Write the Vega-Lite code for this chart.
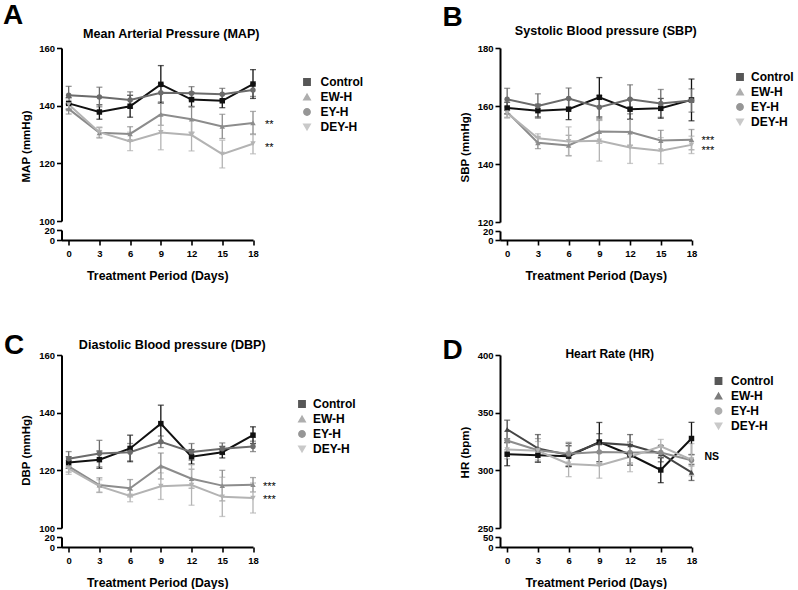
{
  "$schema": "https://vega.github.io/schema/vega-lite/v6.json",
  "padding": {"left": 2.5, "top": 1, "right": 0, "bottom": 0},
  "background": "white",
  "config": {
    "font": "Liberation Sans",
    "view": {"stroke": null},
    "axis": {"grid": false, "domainColor": "#000", "domainWidth": 2, "tickColor": "#000", "tickWidth": 1.6, "tickSize": 5, "labelFont": "Liberation Sans", "labelFontSize": 9.5, "labelFontWeight": "bold", "labelColor": "#000", "labelPadding": 2, "titleFont": "Liberation Sans", "titleFontSize": 12, "titleFontWeight": "bold", "titleColor": "#000"},
    "axisX": {"labelPadding": 3, "titlePadding": 12, "labelFlush": false, "labelOverlap": false, "titleFontSize": 12.3},
    "axisY": {"titlePadding": 7, "labelOverlap": false, "titleFontSize": 11.5},
    "title": {"font": "Liberation Sans", "fontSize": 12.6, "fontWeight": "bold", "color": "#000", "anchor": "middle"},
    "legend": {"title": null, "labelFont": "Liberation Sans", "labelFontSize": 12, "labelFontWeight": "bold", "labelColor": "#000", "symbolSize": 40, "rowPadding": 2, "labelOffset": 7, "padding": 0, "orient": "none"}
  },
  "datasets": {
    "A": [
      {"g":"Control","d":0,"m":140.8,"lo":138.8,"hi":142.8},
      {"g":"Control","d":3,"m":137.8,"lo":135.3,"hi":140.3},
      {"g":"Control","d":6,"m":139.8,"lo":136.0,"hi":143.6},
      {"g":"Control","d":9,"m":147.4,"lo":140.9,"hi":153.9},
      {"g":"Control","d":12,"m":142.1,"lo":139.6,"hi":144.6},
      {"g":"Control","d":15,"m":141.7,"lo":139.3,"hi":144.1},
      {"g":"Control","d":18,"m":147.5,"lo":142.5,"hi":152.5},
      {"g":"EW-H","d":0,"m":138.9,"lo":137.1,"hi":140.7},
      {"g":"EW-H","d":3,"m":130.6,"lo":128.8,"hi":132.4},
      {"g":"EW-H","d":6,"m":130.2,"lo":127.7,"hi":132.7},
      {"g":"EW-H","d":9,"m":137.0,"lo":133.2,"hi":140.8},
      {"g":"EW-H","d":12,"m":135.3,"lo":130.8,"hi":139.8},
      {"g":"EW-H","d":15,"m":132.8,"lo":128.6,"hi":137.0},
      {"g":"EW-H","d":18,"m":134.0,"lo":130.0,"hi":138.0},
      {"g":"EY-H","d":0,"m":143.6,"lo":140.5,"hi":146.7},
      {"g":"EY-H","d":3,"m":143.0,"lo":139.6,"hi":146.4},
      {"g":"EY-H","d":6,"m":142.0,"lo":139.2,"hi":144.8},
      {"g":"EY-H","d":9,"m":144.5,"lo":141.3,"hi":147.7},
      {"g":"EY-H","d":12,"m":144.3,"lo":142.0,"hi":146.6},
      {"g":"EY-H","d":15,"m":144.0,"lo":142.0,"hi":146.0},
      {"g":"EY-H","d":18,"m":145.4,"lo":143.2,"hi":147.6},
      {"g":"DEY-H","d":0,"m":140.4,"lo":138.4,"hi":142.4},
      {"g":"DEY-H","d":3,"m":130.8,"lo":129.0,"hi":132.6},
      {"g":"DEY-H","d":6,"m":127.6,"lo":124.4,"hi":130.8},
      {"g":"DEY-H","d":9,"m":130.7,"lo":124.7,"hi":136.7},
      {"g":"DEY-H","d":12,"m":129.8,"lo":124.3,"hi":135.3},
      {"g":"DEY-H","d":15,"m":123.2,"lo":118.4,"hi":128.0},
      {"g":"DEY-H","d":18,"m":126.8,"lo":123.3,"hi":130.3}
    ],
    "B": [
      {"g":"Control","d":0,"m":159.3,"lo":157.3,"hi":161.3},
      {"g":"Control","d":3,"m":158.4,"lo":156.2,"hi":160.6},
      {"g":"Control","d":6,"m":158.9,"lo":155.3,"hi":162.5},
      {"g":"Control","d":9,"m":163.0,"lo":156.2,"hi":169.8},
      {"g":"Control","d":12,"m":158.9,"lo":155.4,"hi":162.4},
      {"g":"Control","d":15,"m":159.2,"lo":155.8,"hi":162.6},
      {"g":"Control","d":18,"m":162.1,"lo":154.9,"hi":169.3},
      {"g":"EW-H","d":0,"m":157.9,"lo":156.1,"hi":159.7},
      {"g":"EW-H","d":3,"m":147.3,"lo":145.3,"hi":149.3},
      {"g":"EW-H","d":6,"m":146.4,"lo":142.9,"hi":149.9},
      {"g":"EW-H","d":9,"m":151.2,"lo":147.2,"hi":155.2},
      {"g":"EW-H","d":12,"m":151.0,"lo":146.5,"hi":155.5},
      {"g":"EW-H","d":15,"m":148.1,"lo":144.6,"hi":151.6},
      {"g":"EW-H","d":18,"m":148.4,"lo":144.9,"hi":151.9},
      {"g":"EY-H","d":0,"m":162.3,"lo":158.5,"hi":166.1},
      {"g":"EY-H","d":3,"m":160.0,"lo":155.8,"hi":164.2},
      {"g":"EY-H","d":6,"m":162.6,"lo":159.0,"hi":166.2},
      {"g":"EY-H","d":9,"m":159.6,"lo":155.6,"hi":163.6},
      {"g":"EY-H","d":12,"m":162.3,"lo":157.3,"hi":167.3},
      {"g":"EY-H","d":15,"m":160.9,"lo":156.1,"hi":165.7},
      {"g":"EY-H","d":18,"m":161.9,"lo":157.9,"hi":165.9},
      {"g":"DEY-H","d":0,"m":157.6,"lo":155.8,"hi":159.4},
      {"g":"DEY-H","d":3,"m":148.9,"lo":147.4,"hi":150.4},
      {"g":"DEY-H","d":6,"m":147.8,"lo":142.8,"hi":152.8},
      {"g":"DEY-H","d":9,"m":148.0,"lo":141.0,"hi":155.0},
      {"g":"DEY-H","d":12,"m":145.7,"lo":140.2,"hi":151.2},
      {"g":"DEY-H","d":15,"m":144.6,"lo":140.1,"hi":149.1},
      {"g":"DEY-H","d":18,"m":146.6,"lo":143.6,"hi":149.6}
    ],
    "C": [
      {"g":"Control","d":0,"m":122.7,"lo":120.7,"hi":124.7},
      {"g":"Control","d":3,"m":123.7,"lo":120.7,"hi":126.7},
      {"g":"Control","d":6,"m":127.6,"lo":123.0,"hi":132.2},
      {"g":"Control","d":9,"m":136.2,"lo":129.8,"hi":142.6},
      {"g":"Control","d":12,"m":124.7,"lo":122.2,"hi":127.2},
      {"g":"Control","d":15,"m":126.3,"lo":124.3,"hi":128.3},
      {"g":"Control","d":18,"m":132.2,"lo":129.3,"hi":135.1},
      {"g":"EW-H","d":0,"m":121.4,"lo":119.4,"hi":123.4},
      {"g":"EW-H","d":3,"m":114.9,"lo":112.4,"hi":117.4},
      {"g":"EW-H","d":6,"m":113.8,"lo":110.8,"hi":116.8},
      {"g":"EW-H","d":9,"m":121.5,"lo":117.0,"hi":126.0},
      {"g":"EW-H","d":12,"m":117.1,"lo":113.8,"hi":120.4},
      {"g":"EW-H","d":15,"m":114.7,"lo":109.4,"hi":120.0},
      {"g":"EW-H","d":18,"m":115.0,"lo":112.5,"hi":117.5},
      {"g":"EY-H","d":0,"m":124.0,"lo":121.5,"hi":126.5},
      {"g":"EY-H","d":3,"m":125.8,"lo":121.2,"hi":130.4},
      {"g":"EY-H","d":6,"m":126.3,"lo":123.3,"hi":129.3},
      {"g":"EY-H","d":9,"m":129.9,"lo":127.9,"hi":131.9},
      {"g":"EY-H","d":12,"m":126.4,"lo":123.5,"hi":129.3},
      {"g":"EY-H","d":15,"m":127.5,"lo":125.5,"hi":129.5},
      {"g":"EY-H","d":18,"m":128.3,"lo":126.5,"hi":130.1},
      {"g":"DEY-H","d":0,"m":120.6,"lo":118.6,"hi":122.6},
      {"g":"DEY-H","d":3,"m":114.5,"lo":112.3,"hi":116.7},
      {"g":"DEY-H","d":6,"m":111.1,"lo":109.1,"hi":113.1},
      {"g":"DEY-H","d":9,"m":114.5,"lo":109.9,"hi":119.1},
      {"g":"DEY-H","d":12,"m":114.9,"lo":107.9,"hi":121.9},
      {"g":"DEY-H","d":15,"m":110.8,"lo":104.0,"hi":117.6},
      {"g":"DEY-H","d":18,"m":110.4,"lo":105.2,"hi":115.6}
    ],
    "D": [
      {"g":"Control","d":0,"m":314.0,"lo":304.0,"hi":324.0},
      {"g":"Control","d":3,"m":313.1,"lo":307.1,"hi":319.1},
      {"g":"Control","d":6,"m":312.3,"lo":303.3,"hi":321.3},
      {"g":"Control","d":9,"m":324.5,"lo":307.5,"hi":341.5},
      {"g":"Control","d":12,"m":313.5,"lo":304.5,"hi":322.5},
      {"g":"Control","d":15,"m":300.3,"lo":289.3,"hi":311.3},
      {"g":"Control","d":18,"m":327.6,"lo":313.6,"hi":341.6},
      {"g":"EW-H","d":0,"m":335.5,"lo":327.5,"hi":343.5},
      {"g":"EW-H","d":3,"m":319.0,"lo":307.0,"hi":331.0},
      {"g":"EW-H","d":6,"m":313.3,"lo":303.3,"hi":323.3},
      {"g":"EW-H","d":9,"m":323.8,"lo":315.8,"hi":331.8},
      {"g":"EW-H","d":12,"m":322.0,"lo":313.0,"hi":331.0},
      {"g":"EW-H","d":15,"m":314.4,"lo":307.4,"hi":321.4},
      {"g":"EW-H","d":18,"m":298.2,"lo":291.2,"hi":305.2},
      {"g":"EY-H","d":0,"m":325.8,"lo":317.8,"hi":333.8},
      {"g":"EY-H","d":3,"m":317.5,"lo":307.5,"hi":327.5},
      {"g":"EY-H","d":6,"m":314.3,"lo":304.3,"hi":324.3},
      {"g":"EY-H","d":9,"m":316.0,"lo":306.0,"hi":326.0},
      {"g":"EY-H","d":12,"m":315.4,"lo":306.4,"hi":324.4},
      {"g":"EY-H","d":15,"m":315.4,"lo":310.4,"hi":320.4},
      {"g":"EY-H","d":18,"m":308.8,"lo":303.8,"hi":313.8},
      {"g":"DEY-H","d":0,"m":318.0,"lo":310.0,"hi":326.0},
      {"g":"DEY-H","d":3,"m":317.0,"lo":309.0,"hi":325.0},
      {"g":"DEY-H","d":6,"m":305.5,"lo":294.5,"hi":316.5},
      {"g":"DEY-H","d":9,"m":304.2,"lo":293.2,"hi":315.2},
      {"g":"DEY-H","d":12,"m":311.8,"lo":298.8,"hi":324.8},
      {"g":"DEY-H","d":15,"m":320.8,"lo":314.8,"hi":326.8},
      {"g":"DEY-H","d":18,"m":309.2,"lo":295.2,"hi":323.2}
    ],
    "Aa": [{"d":18,"y":134.3,"t":"**"},{"d":18,"y":126.3,"t":"**"}],
    "Ba": [{"d":18,"y":148.8,"t":"***"},{"d":18,"y":145.4,"t":"***"}],
    "Ca": [{"d":18,"y":115.1,"t":"***"},{"d":18,"y":110.8,"t":"***"}],
    "Da": [{"d":18,"y":311.7,"t":"NS"}]
  },
  "columns": 2,
  "bounds": "flush",
  "spacing": {"row": 115, "column": 246.5},
  "resolve": {"scale": {"color": "independent", "shape": "independent"}, "legend": {"color": "independent", "shape": "independent"}},
  "concat": [
    {
      "width": 191.5, "height": 192,
      "title": {"text": "Mean Arterial Pressure (MAP)", "dx": 14, "offset": -39.5},
      "resolve": {"scale": {"y": "independent"}},
      "layer": [
        {
          "data": {"name": "A"},
          "encoding": {
            "x": {"field": "d", "type": "quantitative", "scale": {"domain": [-0.7, 18], "nice": false, "zero": false}, "axis": {"values": [0,3,6,9,12,15,18], "title": "Treatment Period (Days)"}},
            "color": {"field": "g", "type": "nominal", "scale": {"domain": ["Control","EW-H","EY-H","DEY-H"], "range": ["#111111","#8c8c8c","#6b6b6b","#b3b3b3"]}, "legend": {"legendX": 239.5, "legendY": 28, "labelOffset": 7.5}}
          },
          "layer": [
            {"mark": {"type": "errorbar", "ticks": {"size": 6}, "thickness": 1.3},
             "encoding": {"y": {"field": "lo", "type": "quantitative", "scale": {"domain": [100,160], "range": [173,0], "nice": false, "zero": false}, "axis": {"values": [100,120,140,160], "title": "MAP (mmHg)", "titleY": 98}}, "y2": {"field": "hi"}}},
            {"mark": {"type": "line", "strokeWidth": 2},
             "encoding": {"y": {"field": "m", "type": "quantitative", "scale": {"domain": [100,160], "range": [173,0], "nice": false, "zero": false}, "axis": {"values": [100,120,140,160], "title": "MAP (mmHg)", "titleY": 98}}}},
            {"mark": {"type": "point", "filled": true, "size": 30, "opacity": 1},
             "encoding": {"y": {"field": "m", "type": "quantitative", "scale": {"domain": [100,160], "range": [173,0], "nice": false, "zero": false}, "axis": {"values": [100,120,140,160], "title": "MAP (mmHg)", "titleY": 98}},
               "shape": {"field": "g", "type": "nominal", "scale": {"domain": ["Control","EW-H","EY-H","DEY-H"], "range": ["square","triangle-up","circle","triangle-down"]}, "legend": {"legendX": 239.5, "legendY": 28, "labelOffset": 7.5}}}},
            {"data": {"name": "Aa"}, "mark": {"type": "text", "align": "left", "baseline": "middle", "dx": 12, "dy": 3, "fontSize": 11, "font": "Liberation Sans"},
             "encoding": {"y": {"field": "y", "type": "quantitative", "scale": {"domain": [100,160], "range": [173,0], "nice": false, "zero": false}, "axis": {"values": [100,120,140,160], "title": "MAP (mmHg)", "titleY": 98}}, "text": {"field": "t"}, "color": {"value": "#000"}}}
          ]
        },
        {
          "data": {"values": [{"z": 0}]},
          "mark": {"type": "point", "opacity": 0},
          "encoding": {"y": {"field": "z", "type": "quantitative", "scale": {"domain": [0,20], "range": [192,182], "nice": false, "zero": false},
            "axis": {"orient": "left", "values": [0,20], "title": "A", "titleAngle": 0, "titleX": -59, "titleY": -25, "titleAlign": "left", "titleBaseline": "alphabetic", "titleFontSize": 28}}}
        }
      ]
    },
    {
      "width": 191.5, "height": 192,
      "title": {"text": "Systolic Blood pressure (SBP)", "dx": 10, "offset": -34.5},
      "resolve": {"scale": {"y": "independent"}},
      "layer": [
        {
          "data": {"name": "B"},
          "encoding": {
            "x": {"field": "d", "type": "quantitative", "scale": {"domain": [-0.7, 18], "nice": false, "zero": false}, "axis": {"values": [0,3,6,9,12,15,18], "title": "Treatment Period (Days)"}},
            "color": {"field": "g", "type": "nominal", "scale": {"domain": ["Control","EW-H","EY-H","DEY-H"], "range": ["#111111","#8c8c8c","#6b6b6b","#b3b3b3"]}, "legend": {"legendX": 234, "legendY": 23, "labelOffset": 5}}
          },
          "layer": [
            {"mark": {"type": "errorbar", "ticks": {"size": 6}, "thickness": 1.3},
             "encoding": {"y": {"field": "lo", "type": "quantitative", "scale": {"domain": [120,180], "range": [174,0], "nice": false, "zero": false}, "axis": {"values": [120,140,160,180], "title": "SBP (mmHg)", "titleY": 99}}, "y2": {"field": "hi"}}},
            {"mark": {"type": "line", "strokeWidth": 2},
             "encoding": {"y": {"field": "m", "type": "quantitative", "scale": {"domain": [120,180], "range": [174,0], "nice": false, "zero": false}, "axis": {"values": [120,140,160,180], "title": "SBP (mmHg)", "titleY": 99}}}},
            {"mark": {"type": "point", "filled": true, "size": 30, "opacity": 1},
             "encoding": {"y": {"field": "m", "type": "quantitative", "scale": {"domain": [120,180], "range": [174,0], "nice": false, "zero": false}, "axis": {"values": [120,140,160,180], "title": "SBP (mmHg)", "titleY": 99}},
               "shape": {"field": "g", "type": "nominal", "scale": {"domain": ["Control","EW-H","EY-H","DEY-H"], "range": ["square","triangle-up","circle","triangle-down"]}, "legend": {"legendX": 234, "legendY": 23, "labelOffset": 5}}}},
            {"data": {"name": "Ba"}, "mark": {"type": "text", "align": "left", "baseline": "middle", "dx": 10, "dy": 3, "fontSize": 11, "font": "Liberation Sans"},
             "encoding": {"y": {"field": "y", "type": "quantitative", "scale": {"domain": [120,180], "range": [174,0], "nice": false, "zero": false}, "axis": {"values": [120,140,160,180], "title": "SBP (mmHg)", "titleY": 99}}, "text": {"field": "t"}, "color": {"value": "#000"}}}
          ]
        },
        {
          "data": {"values": [{"z": 0}]},
          "mark": {"type": "point", "opacity": 0},
          "encoding": {"y": {"field": "z", "type": "quantitative", "scale": {"domain": [0,20], "range": [192,183], "nice": false, "zero": false},
            "axis": {"orient": "left", "values": [0,20], "title": "B", "titleAngle": 0, "titleX": -58, "titleY": -23, "titleAlign": "left", "titleBaseline": "alphabetic", "titleFontSize": 28}}}
        }
      ]
    },
    {
      "width": 191.5, "height": 192,
      "title": {"text": "Diastolic Blood pressure (DBP)", "dx": 15, "offset": -20.5},
      "resolve": {"scale": {"y": "independent"}},
      "layer": [
        {
          "data": {"name": "C"},
          "encoding": {
            "x": {"field": "d", "type": "quantitative", "scale": {"domain": [-0.7, 18], "nice": false, "zero": false}, "axis": {"values": [0,3,6,9,12,15,18], "title": "Treatment Period (Days)"}},
            "color": {"field": "g", "type": "nominal", "scale": {"domain": ["Control","EW-H","EY-H","DEY-H"], "range": ["#111111","#8c8c8c","#6b6b6b","#b3b3b3"]}, "legend": {"legendX": 234.5, "legendY": 43, "labelOffset": 5}}
          },
          "layer": [
            {"mark": {"type": "errorbar", "ticks": {"size": 6}, "thickness": 1.3},
             "encoding": {"y": {"field": "lo", "type": "quantitative", "scale": {"domain": [100,160], "range": [173,0], "nice": false, "zero": false}, "axis": {"values": [100,120,140,160], "title": "DBP (mmHg)", "titleY": 95}}, "y2": {"field": "hi"}}},
            {"mark": {"type": "line", "strokeWidth": 2},
             "encoding": {"y": {"field": "m", "type": "quantitative", "scale": {"domain": [100,160], "range": [173,0], "nice": false, "zero": false}, "axis": {"values": [100,120,140,160], "title": "DBP (mmHg)", "titleY": 95}}}},
            {"mark": {"type": "point", "filled": true, "size": 30, "opacity": 1},
             "encoding": {"y": {"field": "m", "type": "quantitative", "scale": {"domain": [100,160], "range": [173,0], "nice": false, "zero": false}, "axis": {"values": [100,120,140,160], "title": "DBP (mmHg)", "titleY": 95}},
               "shape": {"field": "g", "type": "nominal", "scale": {"domain": ["Control","EW-H","EY-H","DEY-H"], "range": ["square","triangle-up","circle","triangle-down"]}, "legend": {"legendX": 234.5, "legendY": 43, "labelOffset": 5}}}},
            {"data": {"name": "Ca"}, "mark": {"type": "text", "align": "left", "baseline": "middle", "dx": 10, "dy": 3, "fontSize": 11, "font": "Liberation Sans"},
             "encoding": {"y": {"field": "y", "type": "quantitative", "scale": {"domain": [100,160], "range": [173,0], "nice": false, "zero": false}, "axis": {"values": [100,120,140,160], "title": "DBP (mmHg)", "titleY": 95}}, "text": {"field": "t"}, "color": {"value": "#000"}}}
          ]
        },
        {
          "data": {"values": [{"z": 0}]},
          "mark": {"type": "point", "opacity": 0},
          "encoding": {"y": {"field": "z", "type": "quantitative", "scale": {"domain": [0,20], "range": [192,182], "nice": false, "zero": false},
            "axis": {"orient": "left", "values": [0,20], "title": "C", "titleAngle": 0, "titleX": -58, "titleY": -2, "titleAlign": "left", "titleBaseline": "alphabetic", "titleFontSize": 28}}}
        }
      ]
    },
    {
      "width": 191.5, "height": 192,
      "title": {"text": "Heart Rate (HR)", "dx": 14, "offset": -25, "fontSize": 12},
      "resolve": {"scale": {"y": "independent"}},
      "layer": [
        {
          "data": {"name": "D"},
          "encoding": {
            "x": {"field": "d", "type": "quantitative", "scale": {"domain": [-0.7, 18], "nice": false, "zero": false}, "axis": {"values": [0,3,6,9,12,15,18], "title": "Treatment Period (Days)"}},
            "color": {"field": "g", "type": "nominal", "scale": {"domain": ["Control","EW-H","EY-H","DEY-H"], "range": ["#111111","#454545","#8c8c8c","#b3b3b3"]}, "legend": {"legendX": 212.5, "legendY": 20, "labelOffset": 6.5}}
          },
          "layer": [
            {"mark": {"type": "errorbar", "ticks": {"size": 6}, "thickness": 1.3},
             "encoding": {"y": {"field": "lo", "type": "quantitative", "scale": {"domain": [250,400], "range": [173,0], "nice": false, "zero": false}, "axis": {"values": [250,300,350,400], "title": "HR (bpm)", "titleY": 97}}, "y2": {"field": "hi"}}},
            {"mark": {"type": "line", "strokeWidth": 2},
             "encoding": {"y": {"field": "m", "type": "quantitative", "scale": {"domain": [250,400], "range": [173,0], "nice": false, "zero": false}, "axis": {"values": [250,300,350,400], "title": "HR (bpm)", "titleY": 97}}}},
            {"mark": {"type": "point", "filled": true, "size": 30, "opacity": 1},
             "encoding": {"y": {"field": "m", "type": "quantitative", "scale": {"domain": [250,400], "range": [173,0], "nice": false, "zero": false}, "axis": {"values": [250,300,350,400], "title": "HR (bpm)", "titleY": 97}},
               "shape": {"field": "g", "type": "nominal", "scale": {"domain": ["Control","EW-H","EY-H","DEY-H"], "range": ["square","triangle-up","circle","triangle-down"]}, "legend": {"legendX": 212.5, "legendY": 20, "labelOffset": 6.5}}}},
            {"data": {"name": "Da"}, "mark": {"type": "text", "align": "left", "baseline": "middle", "dx": 13, "fontSize": 10.5, "fontWeight": "bold", "font": "Liberation Sans"},
             "encoding": {"y": {"field": "y", "type": "quantitative", "scale": {"domain": [250,400], "range": [173,0], "nice": false, "zero": false}, "axis": {"values": [250,300,350,400], "title": "HR (bpm)", "titleY": 97}}, "text": {"field": "t"}, "color": {"value": "#000"}}}
          ]
        },
        {
          "data": {"values": [{"z": 0}]},
          "mark": {"type": "point", "opacity": 0},
          "encoding": {"y": {"field": "z", "type": "quantitative", "scale": {"domain": [0,50], "range": [192,182], "nice": false, "zero": false},
            "axis": {"orient": "left", "values": [0,50], "title": "D", "titleAngle": 0, "titleX": -58, "titleY": 3, "titleAlign": "left", "titleBaseline": "alphabetic", "titleFontSize": 28}}}
        }
      ]
    }
  ]
}
